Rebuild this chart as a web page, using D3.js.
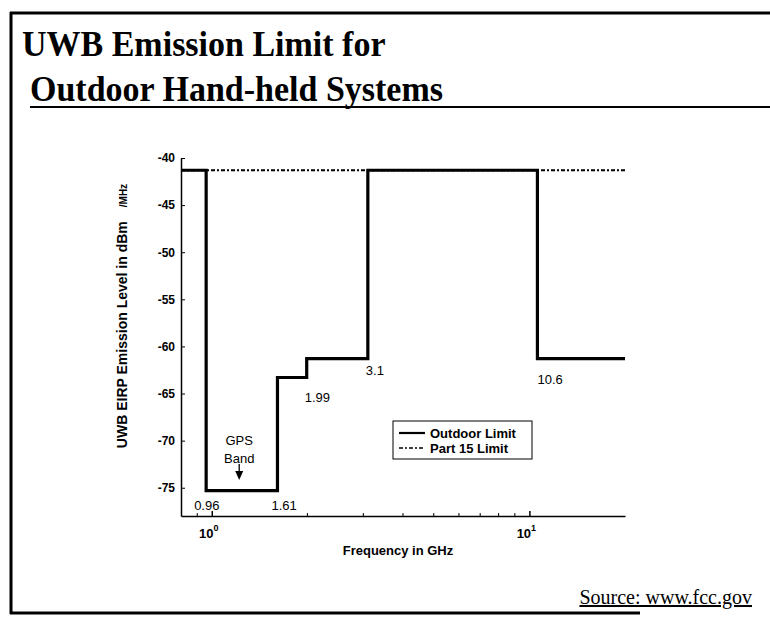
<!DOCTYPE html>
<html>
<head>
<meta charset="utf-8">
<script src="https://cdn.jsdelivr.net/npm/d3@7"></script>
<style>
  html, body { margin: 0; padding: 0; background: #fff; }
  svg { display: block; }
</style>
</head>
<body>
<svg id="chart" width="770" height="620"></svg>
<script>
// ---- data ----
const stepFreqs = [0.8, 0.96, 1.61, 1.99, 3.1, 10.6, 20];          // GHz breakpoints
const outdoorLevels = [-41.3, -75.3, -63.3, -61.3, -41.3, -61.3, -61.3]; // dBm/MHz (step-after)
const part15Freqs = [0.8, 20];
const part15Levels = [-41.3, -41.3];
const yTicks = [-40, -45, -50, -55, -60, -65, -70, -75];
const xTicks = [1, 10];
const bandFreqs = [0.96, 1.61, 1.99, 3.1, 10.6];
const bandLevels = [-75.3, -75.3, -63.3, -61.3, -61.3];
const bandTexts = ["0.96", "1.61", "1.99", "3.1", "10.6"];
const legendLabels = ["Outdoor Limit", "Part 15 Limit"];
const titleLines = ["UWB Emission Limit for", "Outdoor Hand-held Systems"];

// ---- setup ----
const svg = d3.select("#chart");
const sans = "Liberation Sans, Arial, sans-serif";
const serif = "Liberation Serif, Times New Roman, serif";

// frame
svg.append("line").attr("x1", 10).attr("x2", 770).attr("y1", 13).attr("y2", 13)
  .attr("stroke", "#000").attr("stroke-width", 3);
svg.append("line").attr("x1", 11).attr("x2", 11).attr("y1", 12).attr("y2", 614)
  .attr("stroke", "#000").attr("stroke-width", 3);
svg.append("line").attr("x1", 10).attr("x2", 640).attr("y1", 613).attr("y2", 613)
  .attr("stroke", "#000").attr("stroke-width", 3);

// title
svg.append("text").attr("transform", "translate(22,56) scale(1,1.08)").text(titleLines[0])
  .attr("font-family", serif).attr("font-weight", "bold").attr("font-size", 34);
svg.append("text").attr("transform", "translate(30,101) scale(1,1.08)").text(titleLines[1])
  .attr("font-family", serif).attr("font-weight", "bold").attr("font-size", 34);
svg.append("line").attr("x1", 30).attr("x2", 770).attr("y1", 107).attr("y2", 107)
  .attr("stroke", "#000").attr("stroke-width", 2);

// scales
const x = d3.scaleLog().domain([0.8, 20]).range([181, 625]);
const y = d3.scaleLinear().domain([-78, -40]).range([516, 158]);

// axes (MATLAB-like, ticks inward)
const xAxis = d3.axisBottom(x).tickValues(xTicks).tickSizeInner(-5).tickSizeOuter(0).tickFormat("");
const gx = svg.append("g").attr("transform", `translate(0,${y(-78)})`).call(xAxis);
const minor = [0.9, 2, 3, 4, 5, 6, 7, 8, 9];
gx.selectAll(".minor").data(minor).enter().append("line").attr("class", "minor")
  .attr("x1", d => x(d)).attr("x2", d => x(d)).attr("y1", 0).attr("y2", -3)
  .attr("stroke", "#000").attr("stroke-width", 1);
gx.select(".domain").attr("stroke-width", 1.5);
gx.selectAll(".tick line").attr("stroke-width", 1.5);

// x tick labels as 10^n
xTicks.forEach(t => {
  const tx = svg.append("text").attr("x", x(t) - 3).attr("y", 538)
    .attr("text-anchor", "middle").attr("font-family", sans).attr("font-weight", "bold")
    .attr("font-size", 13);
  tx.append("tspan").text("10");
  tx.append("tspan").attr("dy", -7).attr("font-size", 9).text(Math.round(Math.log10(t)));
});

const yAxis = d3.axisLeft(y).tickValues(yTicks).tickSizeInner(-4).tickSizeOuter(0)
  .tickPadding(6).tickFormat(d => String(d));
const gy = svg.append("g").attr("transform", `translate(${x(0.8)},0)`).call(yAxis);
gy.select(".domain").attr("stroke-width", 1.5);
gy.selectAll("text").attr("font-family", sans).attr("font-weight", "bold").attr("font-size", 12);

// axis titles
svg.append("text").attr("x", 398).attr("y", 555).attr("text-anchor", "middle")
  .attr("font-family", sans).attr("font-weight", "bold").attr("font-size", 13)
  .text("Frequency in GHz");
const yl = svg.append("text").attr("transform", "translate(127,316) rotate(-90)")
  .attr("text-anchor", "middle").attr("font-family", sans).attr("font-weight", "bold")
  .attr("font-size", 14);
yl.append("tspan").text("UWB EIRP Emission Level in dBm");
yl.append("tspan").attr("dx", 14).attr("font-size", 10).text("/MHz");

// lines
const pts = stepFreqs.map((f, i) => [f, outdoorLevels[i]]);
const stepLine = d3.line().x(d => x(d[0])).y(d => y(d[1])).curve(d3.curveStepAfter);
const p15 = part15Freqs.map((f, i) => [f, part15Levels[i]]);
const plainLine = d3.line().x(d => x(d[0])).y(d => y(d[1]));

svg.append("path").attr("d", plainLine(p15)).attr("fill", "none")
  .attr("stroke", "#000").attr("stroke-width", 2).attr("stroke-dasharray", "4,2,2,2");
svg.append("path").attr("d", stepLine(pts)).attr("fill", "none")
  .attr("stroke", "#000").attr("stroke-width", 3.2).attr("stroke-linejoin", "miter");

// band labels (offsets below each step)
const labelDx = [-12, -6, -2, -2, 0];
const labelDy = [19, 19, 24, 16, 25];
bandFreqs.forEach((f, i) => {
  svg.append("text").attr("x", x(f) + labelDx[i]).attr("y", y(bandLevels[i]) + labelDy[i])
    .attr("font-family", sans).attr("font-size", 13).text(bandTexts[i]);
});

// GPS band annotation
const gpsX = x(1.22);
svg.append("text").attr("x", gpsX).attr("y", 445).attr("text-anchor", "middle")
  .attr("font-family", sans).attr("font-size", 13).text("GPS");
svg.append("text").attr("x", gpsX).attr("y", 463).attr("text-anchor", "middle")
  .attr("font-family", sans).attr("font-size", 13).text("Band");
svg.append("line").attr("x1", gpsX).attr("x2", gpsX).attr("y1", 464).attr("y2", 474)
  .attr("stroke", "#000").attr("stroke-width", 1.3);
svg.append("path").attr("d", `M${gpsX - 4},471 L${gpsX + 4},471 L${gpsX},480 Z`).attr("fill", "#000");

// legend
const lg = svg.append("g").attr("transform", "translate(393,421)");
lg.append("rect").attr("width", 139).attr("height", 38).attr("fill", "#fff")
  .attr("stroke", "#000").attr("stroke-width", 1);
lg.append("line").attr("x1", 6).attr("x2", 32).attr("y1", 12).attr("y2", 12)
  .attr("stroke", "#000").attr("stroke-width", 2.2);
lg.append("line").attr("x1", 6).attr("x2", 32).attr("y1", 27).attr("y2", 27)
  .attr("stroke", "#000").attr("stroke-width", 1.5).attr("stroke-dasharray", "4,2,2,2");
legendLabels.forEach((t, i) => {
  lg.append("text").attr("x", 37).attr("y", 17 + i * 15).attr("font-family", sans)
    .attr("font-weight", "bold").attr("font-size", 13).text(t);
});

// source
svg.append("text").attr("x", 752).attr("y", 604).attr("text-anchor", "end")
  .attr("font-family", serif).attr("font-size", 20).attr("text-decoration", "underline")
  .text("Source: www.fcc.gov");
</script>
</body>
</html>
